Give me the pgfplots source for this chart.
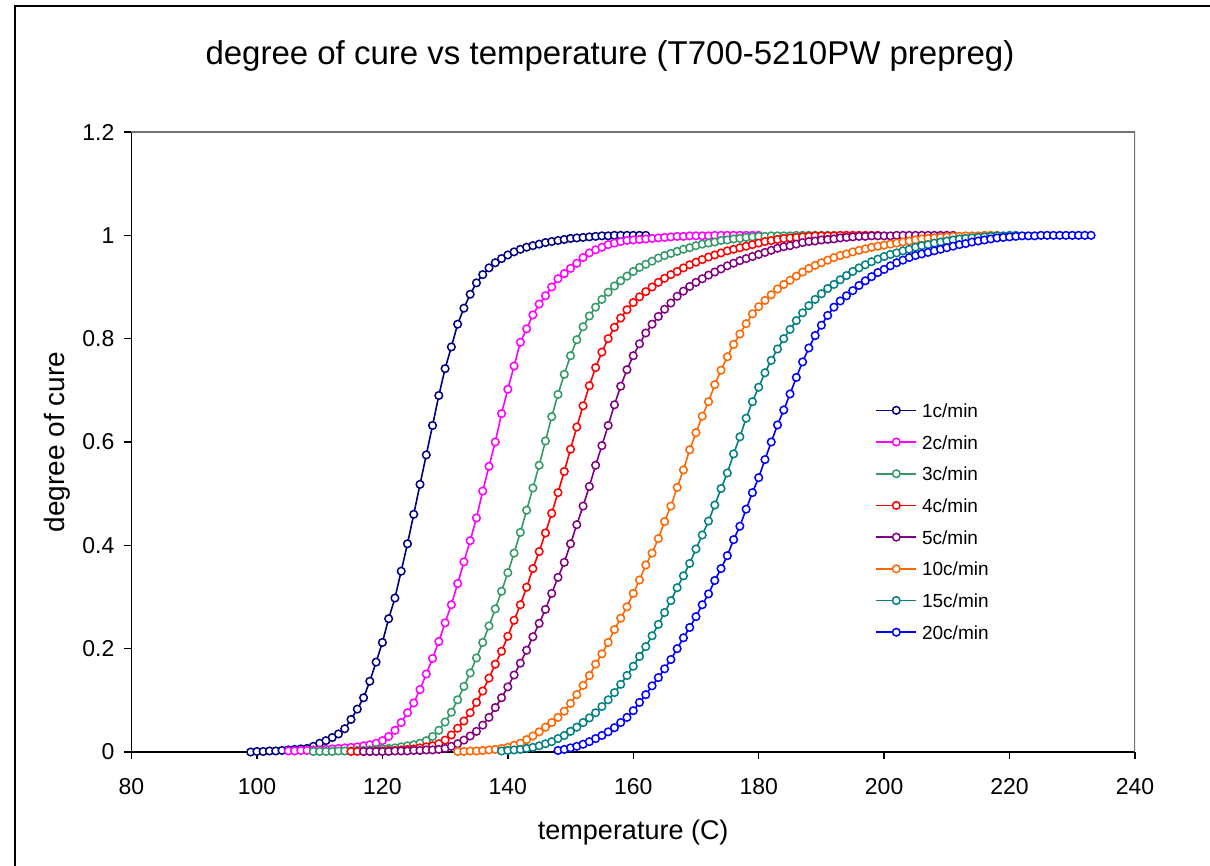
\documentclass[border=0pt]{standalone}
\usepackage{fontspec}
\setmainfont{Liberation Sans}
\usepackage{pgfplots}
\pgfplotsset{compat=1.18}
\definecolor{cA}{RGB}{0,0,128}
\definecolor{cB}{RGB}{255,0,255}
\definecolor{cC}{RGB}{51,153,102}
\definecolor{cD}{RGB}{255,0,0}
\definecolor{cE}{RGB}{128,0,128}
\definecolor{cF}{RGB}{255,102,0}
\definecolor{cG}{RGB}{0,128,128}
\definecolor{cH}{RGB}{0,0,255}
\begin{document}
\begin{tikzpicture}
\path[use as bounding box] (0,0) rectangle (605pt,-433pt);
\draw[line width=0.75pt] (7.5pt,-440pt) -- (7.5pt,-3pt) -- (610pt,-3pt);
\begin{axis}[
  at={(65.75pt,-376pt)}, anchor=south west,
  scale only axis, width=501.75pt, height=310pt,
  xmin=80, xmax=240, ymin=0, ymax=1.2,
  xtick={80,100,120,140,160,180,200,220,240},
  ytick={0,0.2,0.4,0.6,0.8,1,1.2},
  axis x line*=bottom, axis y line*=left,
  axis line style={black, line width=0.75pt, -},
  tick align=outside, major tick length=3.5pt,
  tick style={black, line width=0.75pt},
  tick label style={font=\fontsize{11.5}{13}\selectfont},
  /pgf/number format/assume math mode=true,
  xticklabel style={yshift=-6pt},
  yticklabel style={xshift=-1.5pt},
  title={degree of cure vs temperature (T700-5210PW prepreg)},
  title style={at={(axis description cs:0.4768,1)}, anchor=center, yshift=32pt, font=\fontsize{16.5}{19}\selectfont},
  xlabel={temperature (C)},
  xlabel style={at={(axis description cs:0.5,0)}, anchor=center, yshift=-40.5pt, font=\fontsize{13.5}{16}\selectfont},
  ylabel={degree of cure},
  ylabel style={at={(axis description cs:-0.0742,0.5)}, anchor=center, font=\fontsize{14}{16}\selectfont},
  legend cell align=left,
  legend style={at={(0.741,0.563)}, anchor=north west, draw=none, fill=none,
    inner sep=0pt, row sep=8.85pt, font=\fontsize{9.5}{11}\selectfont,
    nodes={inner sep=0pt, text height=7pt, text depth=0pt},
    /tikz/every odd column/.append style={column sep=2.5pt}},
  legend image code/.code={\draw[mark repeat=2,mark phase=2] plot coordinates {(0pt,0pt) (10pt,0pt) (20pt,0pt)};},
  every axis plot/.append style={line width=0.8pt, mark=*, mark size=1.9pt, mark options={fill=white, solid, line width=0.75pt}},
]
\draw[black!55, line width=0.6pt] (rel axis cs:0,1) -- (rel axis cs:1,1) -- (rel axis cs:1,0);

\addplot[color=cA] coordinates {(99,0)(100,0.001)(101,0.001)(102,0.002)(103,0.002)(104,0.003)(105,0.004)(106,0.005)(107,0.006)(108,0.007)(109,0.011)(110,0.017)(111,0.022)(112,0.028)(113,0.035)(114,0.045)(115,0.063)(116,0.083)(117,0.105)(118,0.137)(119,0.174)(120,0.212)(121,0.258)(122,0.298)(123,0.350)(124,0.403)(125,0.460)(126,0.518)(127,0.575)(128,0.632)(129,0.690)(130,0.742)(131,0.784)(132,0.828)(133,0.859)(134,0.886)(135,0.908)(136,0.924)(137,0.937)(138,0.947)(139,0.955)(140,0.962)(141,0.968)(142,0.973)(143,0.977)(144,0.980)(145,0.983)(146,0.986)(147,0.988)(148,0.990)(149,0.992)(150,0.994)(151,0.995)(152,0.996)(153,0.997)(154,0.998)(155,0.999)(156,0.999)(157,1)(158,1)(159,1)(160,1)(161,1)(162,1)};
\addlegendentry{1c/min}

\addplot[color=cB] coordinates {(105,0.002)(106,0.002)(107,0.003)(108,0.003)(109,0.004)(110,0.004)(111,0.005)(112,0.006)(113,0.007)(114,0.008)(115,0.009)(116,0.010)(117,0.012)(118,0.014)(119,0.017)(120,0.022)(121,0.030)(122,0.042)(123,0.057)(124,0.076)(125,0.095)(126,0.121)(127,0.151)(128,0.181)(129,0.214)(130,0.250)(131,0.285)(132,0.326)(133,0.368)(134,0.409)(135,0.453)(136,0.505)(137,0.553)(138,0.600)(139,0.655)(140,0.702)(141,0.747)(142,0.793)(143,0.819)(144,0.846)(145,0.867)(146,0.883)(147,0.900)(148,0.916)(149,0.926)(150,0.936)(151,0.946)(152,0.957)(153,0.966)(154,0.972)(155,0.977)(156,0.982)(157,0.985)(158,0.988)(159,0.990)(160,0.991)(161,0.992)(162,0.993)(163,0.994)(164,0.995)(165,0.996)(166,0.997)(167,0.998)(168,0.998)(169,0.999)(170,0.999)(171,0.999)(172,0.999)(173,1)(174,1)(175,1)(176,1)(177,1)(178,1)(179,1)(180,1)};
\addlegendentry{2c/min}

\addplot[color=cC] coordinates {(109,0.001)(110,0.001)(111,0.001)(112,0.001)(113,0.002)(114,0.002)(115,0.002)(116,0.003)(117,0.003)(118,0.004)(119,0.005)(120,0.006)(121,0.007)(122,0.008)(123,0.010)(124,0.012)(125,0.014)(126,0.017)(127,0.022)(128,0.030)(129,0.042)(130,0.058)(131,0.077)(132,0.101)(133,0.127)(134,0.153)(135,0.182)(136,0.212)(137,0.244)(138,0.277)(139,0.311)(140,0.347)(141,0.385)(142,0.425)(143,0.468)(144,0.511)(145,0.555)(146,0.602)(147,0.649)(148,0.692)(149,0.731)(150,0.767)(151,0.798)(152,0.823)(153,0.844)(154,0.861)(155,0.876)(156,0.890)(157,0.902)(158,0.912)(159,0.921)(160,0.930)(161,0.938)(162,0.944)(163,0.950)(164,0.956)(165,0.961)(166,0.965)(167,0.969)(168,0.973)(169,0.976)(170,0.980)(171,0.983)(172,0.985)(173,0.987)(174,0.990)(175,0.991)(176,0.993)(177,0.994)(178,0.996)(179,0.997)(180,0.998)(181,0.998)(182,0.999)(183,0.999)(184,0.999)(185,0.999)(186,1)(187,1)(188,1)(189,1)(190,1)(191,1)(192,1)};
\addlegendentry{3c/min}

\addplot[color=cD] coordinates {(115,0.001)(116,0.001)(117,0.001)(118,0.001)(119,0.002)(120,0.002)(121,0.003)(122,0.003)(123,0.004)(124,0.005)(125,0.006)(126,0.008)(127,0.010)(128,0.012)(129,0.016)(130,0.023)(131,0.033)(132,0.046)(133,0.060)(134,0.076)(135,0.096)(136,0.118)(137,0.143)(138,0.170)(139,0.195)(140,0.224)(141,0.255)(142,0.285)(143,0.319)(144,0.355)(145,0.388)(146,0.424)(147,0.462)(148,0.502)(149,0.543)(150,0.586)(151,0.629)(152,0.670)(153,0.709)(154,0.744)(155,0.774)(156,0.800)(157,0.822)(158,0.840)(159,0.856)(160,0.870)(161,0.881)(162,0.891)(163,0.900)(164,0.909)(165,0.917)(166,0.924)(167,0.930)(168,0.937)(169,0.943)(170,0.948)(171,0.953)(172,0.958)(173,0.962)(174,0.966)(175,0.970)(176,0.973)(177,0.976)(178,0.979)(179,0.982)(180,0.985)(181,0.988)(182,0.990)(183,0.992)(184,0.994)(185,0.995)(186,0.996)(187,0.997)(188,0.998)(189,0.999)(190,0.999)(191,0.999)(192,0.999)(193,1)(194,1)(195,1)(196,1)(197,1)(198,1)(199,1)};
\addlegendentry{4c/min}

\addplot[color=cE] coordinates {(117,0.001)(118,0.001)(119,0.001)(120,0.001)(121,0.001)(122,0.002)(123,0.002)(124,0.002)(125,0.003)(126,0.003)(127,0.004)(128,0.004)(129,0.005)(130,0.007)(131,0.011)(132,0.016)(133,0.023)(134,0.031)(135,0.040)(136,0.052)(137,0.067)(138,0.086)(139,0.105)(140,0.126)(141,0.149)(142,0.172)(143,0.197)(144,0.223)(145,0.249)(146,0.276)(147,0.307)(148,0.338)(149,0.367)(150,0.403)(151,0.440)(152,0.476)(153,0.514)(154,0.555)(155,0.593)(156,0.632)(157,0.672)(158,0.708)(159,0.740)(160,0.767)(161,0.790)(162,0.811)(163,0.828)(164,0.843)(165,0.857)(166,0.869)(167,0.882)(168,0.892)(169,0.901)(170,0.909)(171,0.916)(172,0.923)(173,0.929)(174,0.935)(175,0.941)(176,0.946)(177,0.951)(178,0.955)(179,0.959)(180,0.963)(181,0.967)(182,0.971)(183,0.975)(184,0.978)(185,0.980)(186,0.983)(187,0.986)(188,0.988)(189,0.989)(190,0.991)(191,0.992)(192,0.993)(193,0.995)(194,0.996)(195,0.997)(196,0.998)(197,0.998)(198,0.999)(199,0.999)(200,0.999)(201,0.999)(202,1)(203,1)(204,1)(205,1)(206,1)(207,1)(208,1)(209,1)(210,1)(211,1)};
\addlegendentry{5c/min}

\addplot[color=cF] coordinates {(132,0.001)(133,0.001)(134,0.002)(135,0.002)(136,0.003)(137,0.004)(138,0.005)(139,0.007)(140,0.009)(141,0.013)(142,0.017)(143,0.024)(144,0.031)(145,0.039)(146,0.048)(147,0.057)(148,0.067)(149,0.079)(150,0.094)(151,0.111)(152,0.129)(153,0.148)(154,0.170)(155,0.190)(156,0.212)(157,0.237)(158,0.259)(159,0.281)(160,0.307)(161,0.333)(162,0.362)(163,0.385)(164,0.413)(165,0.446)(166,0.476)(167,0.512)(168,0.546)(169,0.585)(170,0.618)(171,0.650)(172,0.678)(173,0.711)(174,0.739)(175,0.765)(176,0.789)(177,0.809)(178,0.829)(179,0.848)(180,0.862)(181,0.874)(182,0.885)(183,0.896)(184,0.905)(185,0.913)(186,0.921)(187,0.929)(188,0.936)(189,0.942)(190,0.947)(191,0.952)(192,0.957)(193,0.961)(194,0.964)(195,0.968)(196,0.971)(197,0.974)(198,0.977)(199,0.979)(200,0.981)(201,0.983)(202,0.985)(203,0.987)(204,0.989)(205,0.991)(206,0.993)(207,0.994)(208,0.995)(209,0.996)(210,0.997)(211,0.998)(212,0.998)(213,0.999)(214,0.999)(215,0.999)(216,1)(217,1)(218,1)};
\addlegendentry{10c/min}

\addplot[color=cG] coordinates {(139,0.002)(140,0.003)(141,0.004)(142,0.005)(143,0.007)(144,0.009)(145,0.012)(146,0.016)(147,0.020)(148,0.026)(149,0.032)(150,0.040)(151,0.048)(152,0.057)(153,0.066)(154,0.076)(155,0.088)(156,0.101)(157,0.115)(158,0.131)(159,0.148)(160,0.166)(161,0.185)(162,0.204)(163,0.225)(164,0.247)(165,0.270)(166,0.293)(167,0.318)(168,0.341)(169,0.365)(170,0.393)(171,0.420)(172,0.447)(173,0.478)(174,0.510)(175,0.540)(176,0.577)(177,0.610)(178,0.646)(179,0.678)(180,0.706)(181,0.734)(182,0.758)(183,0.780)(184,0.800)(185,0.818)(186,0.835)(187,0.850)(188,0.864)(189,0.876)(190,0.887)(191,0.897)(192,0.905)(193,0.914)(194,0.922)(195,0.930)(196,0.937)(197,0.943)(198,0.949)(199,0.954)(200,0.959)(201,0.963)(202,0.966)(203,0.970)(204,0.973)(205,0.977)(206,0.980)(207,0.982)(208,0.985)(209,0.987)(210,0.989)(211,0.991)(212,0.993)(213,0.994)(214,0.995)(215,0.996)(216,0.997)(217,0.998)(218,0.999)(219,0.999)(220,1)(221,1)};
\addlegendentry{15c/min}

\addplot[color=cH] coordinates {(148,0.003)(149,0.005)(150,0.008)(151,0.011)(152,0.015)(153,0.020)(154,0.026)(155,0.032)(156,0.039)(157,0.047)(158,0.057)(159,0.067)(160,0.080)(161,0.096)(162,0.111)(163,0.128)(164,0.144)(165,0.161)(166,0.179)(167,0.200)(168,0.221)(169,0.241)(170,0.262)(171,0.285)(172,0.306)(173,0.332)(174,0.355)(175,0.380)(176,0.411)(177,0.437)(178,0.470)(179,0.502)(180,0.531)(181,0.566)(182,0.600)(183,0.633)(184,0.662)(185,0.693)(186,0.725)(187,0.755)(188,0.782)(189,0.806)(190,0.826)(191,0.845)(192,0.861)(193,0.873)(194,0.883)(195,0.893)(196,0.903)(197,0.912)(198,0.920)(199,0.928)(200,0.934)(201,0.941)(202,0.947)(203,0.952)(204,0.957)(205,0.961)(206,0.964)(207,0.967)(208,0.970)(209,0.973)(210,0.976)(211,0.979)(212,0.982)(213,0.984)(214,0.987)(215,0.989)(216,0.991)(217,0.993)(218,0.995)(219,0.996)(220,0.997)(221,0.998)(222,0.999)(223,0.999)(224,0.999)(225,1)(226,1)(227,1)(228,1)(229,1)(230,1)(231,1)(232,1)(233,1)};
\addlegendentry{20c/min}
\end{axis}
\end{tikzpicture}
\end{document}
